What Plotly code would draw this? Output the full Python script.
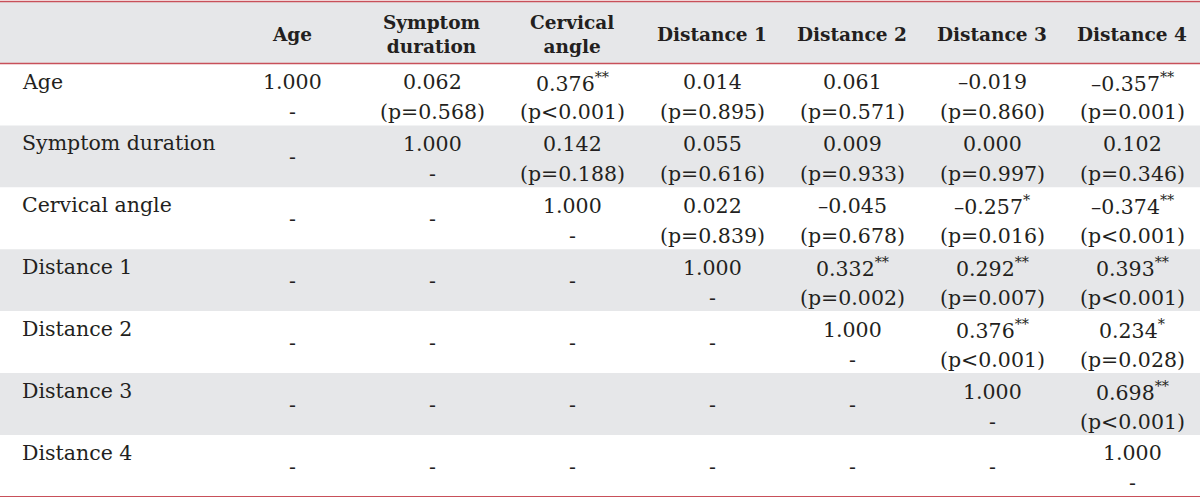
import plotly.graph_objects as go

# ---------------- data ----------------
row_labels = ["Age", "Symptom duration", "Cervical angle", "Distance 1",
              "Distance 2", "Distance 3", "Distance 4"]
col_headers = ["Age", "Symptom<br>duration", "Cervical<br>angle", "Distance 1",
               "Distance 2", "Distance 3", "Distance 4"]

# correlation coefficients (upper triangle incl. diagonal), None = not shown
coef = [
    [1.000, 0.062, 0.376, 0.014, 0.061, -0.019, -0.357],
    [None, 1.000, 0.142, 0.055, 0.009, 0.000, 0.102],
    [None, None, 1.000, 0.022, -0.045, -0.257, -0.374],
    [None, None, None, 1.000, 0.332, 0.292, 0.393],
    [None, None, None, None, 1.000, 0.376, 0.234],
    [None, None, None, None, None, 1.000, 0.698],
    [None, None, None, None, None, None, 1.000],
]
# p-values as printed (diagonal has none)
pvals = [
    ["-", "=0.568", "<0.001", "=0.895", "=0.571", "=0.860", "=0.001"],
    [None, "-", "=0.188", "=0.616", "=0.933", "=0.997", "=0.346"],
    [None, None, "-", "=0.839", "=0.678", "=0.016", "<0.001"],
    [None, None, None, "-", "=0.002", "=0.007", "<0.001"],
    [None, None, None, None, "-", "<0.001", "=0.028"],
    [None, None, None, None, None, "-", "<0.001"],
    [None, None, None, None, None, None, "-"],
]
# significance markers
stars = [
    ["", "", "**", "", "", "", "**"],
    ["", "", "", "", "", "", ""],
    ["", "", "", "", "", "*", "**"],
    ["", "", "", "", "**", "**", "**"],
    ["", "", "", "", "", "**", "*"],
    ["", "", "", "", "", "", "**"],
    ["", "", "", "", "", "", ""],
]

# ---------------- layout constants ----------------
W, H = 1200, 497
FONT = "DejaVu Serif"
FS = 20.5
HFS = 18.5
TXT = "#231f20"
GRAY = "#e6e7e9"
RED = "#c8505a"
label_x = 20
col_x0, col_w = 292, 140
head_top, head_bot = 1.5, 63.5
row_h = 61.9


def fmt(v):
    s = f"{abs(v):.3f}"
    return ("\u2013" + s) if v < 0 else s


shapes = []
annotations = []

# header background
shapes.append(dict(type="rect", xref="x", yref="y", x0=0, x1=W, y0=head_top, y1=head_bot,
                   fillcolor=GRAY, line_width=0, layer="below"))
# striped rows
for i in range(len(row_labels)):
    top = head_bot + i * row_h
    if i % 2 == 1:
        shapes.append(dict(type="rect", xref="x", yref="y", x0=0, x1=W, y0=top, y1=top + row_h,
                           fillcolor=GRAY, line_width=0, layer="below"))
# red rules
for yy in [head_top, head_bot, head_bot + len(row_labels) * row_h]:
    shapes.append(dict(type="line", xref="x", yref="y", x0=0, x1=W, y0=yy, y1=yy,
                       line=dict(color=RED, width=1.6)))

# headers
for j, h in enumerate(col_headers):
    annotations.append(dict(x=col_x0 + j * col_w, y=(head_top + head_bot) / 2 + 2, xref="x", yref="y",
                            text=f"<b>{h}</b>", showarrow=False, xanchor="center", yanchor="middle",
                            font=dict(family=FONT, size=HFS, color=TXT)))

# body
for i, lab in enumerate(row_labels):
    top = head_bot + i * row_h
    annotations.append(dict(x=label_x, y=top + 18, xref="x", yref="y", text=lab, showarrow=False,
                            xanchor="left", yanchor="middle",
                            font=dict(family=FONT, size=FS, color=TXT)))
    for j in range(len(col_headers)):
        cx = col_x0 + j * col_w
        v = coef[i][j]
        if v is None:
            annotations.append(dict(x=cx, y=top + row_h / 2 + 1, xref="x", yref="y", text="-",
                                    showarrow=False, xanchor="center", yanchor="middle",
                                    font=dict(family=FONT, size=FS, color=TXT)))
            continue
        st = stars[i][j]
        t1 = fmt(v) + (f"<sup>{st}</sup>" if st else "")
        p = pvals[i][j]
        t2 = "-" if p == "-" else "(p" + p.replace("<", "&lt;") + ")"
        annotations.append(dict(x=cx, y=top + 18.5, xref="x", yref="y", text=t1, showarrow=False,
                                xanchor="center", yanchor="middle",
                                font=dict(family=FONT, size=FS, color=TXT)))
        annotations.append(dict(x=cx, y=top + 48.5, xref="x", yref="y", text=t2, showarrow=False,
                                xanchor="center", yanchor="middle",
                                font=dict(family=FONT, size=FS, color=TXT)))

fig = go.Figure()
fig.add_trace(go.Scatter(x=[0, W], y=[0, H], mode="markers", marker=dict(opacity=0),
                         hoverinfo="skip", showlegend=False))
fig.update_layout(
    width=W, height=H, margin=dict(l=0, r=0, t=0, b=0),
    paper_bgcolor="white", plot_bgcolor="white",
    xaxis=dict(range=[0, W], visible=False, fixedrange=True),
    yaxis=dict(range=[H, 0], visible=False, fixedrange=True),
    shapes=shapes, annotations=annotations, showlegend=False,
)
fig.write_html("out.html", config={"displayModeBar": False},
               post_script="document.body.style.margin='0';document.body.style.overflow='hidden';")
